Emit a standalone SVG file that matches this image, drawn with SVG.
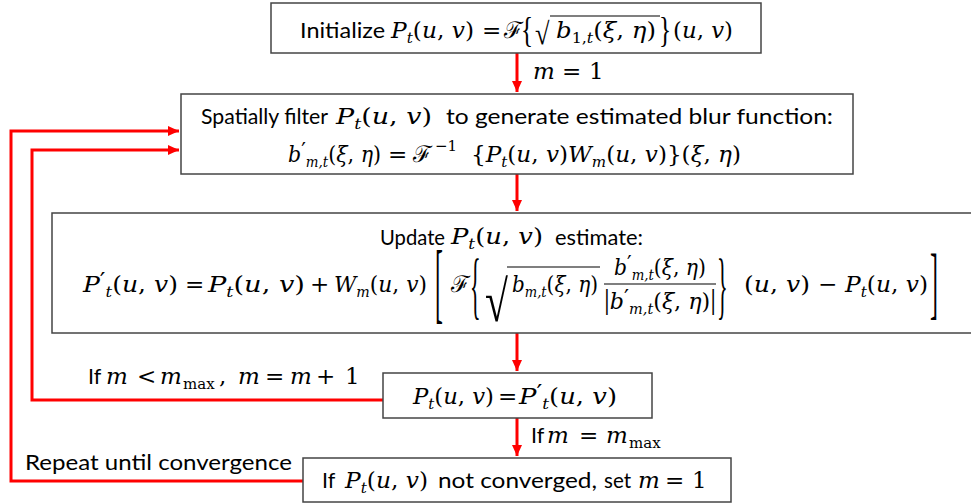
<svg xmlns="http://www.w3.org/2000/svg" width="971" height="503" viewBox="0 0 971 503">
<style>
.box{fill:#fff;stroke:#444;stroke-width:1.5}
.s{font-family:"Lato","Liberation Sans",sans-serif;font-size:21.5px;fill:#000}
.m{font-family:"DejaVu Serif","Liberation Serif",serif;font-size:23px;fill:#000}
.i{font-style:italic}
.sb{font-size:15px;font-style:italic}
.sr{font-size:15px;font-style:normal}
.dl{font-family:"Liberation Serif",serif;fill:#000}
.ov{stroke:#000;stroke-width:1.2}
.c{fill:none;stroke:#f00;stroke-width:3}
</style>
<defs>
<marker id="ah" markerUnits="userSpaceOnUse" viewBox="0 0 11 10" markerWidth="11" markerHeight="10" refX="11" refY="5" orient="auto"><path d="M0,0 L11,5 L0,10 z" fill="#f00"/></marker>
</defs>

<g id="connectors">
<path class="c" d="M517,53 V92" marker-end="url(#ah)"/>
<path class="c" d="M517,174 V211" marker-end="url(#ah)"/>
<path class="c" d="M517,333 V371" marker-end="url(#ah)"/>
<path class="c" d="M517,418 V456" marker-end="url(#ah)"/>
<path class="c" d="M383,400 H32 V150 H179" marker-end="url(#ah)"/>
<path class="c" d="M303,481 H11 V131 H179" marker-end="url(#ah)"/>
<text class="m" y="79"><tspan x="533" class="i">m</tspan><tspan x="562">=</tspan><tspan x="589">1</tspan></text>
<text class="m" y="384"><tspan x="88" class="s">If</tspan><tspan x="106" class="i">m</tspan><tspan x="137">&lt;</tspan><tspan x="160" class="i">m</tspan><tspan x="183" y="389" class="sr" font-size="17">max</tspan><tspan x="219" y="384">,</tspan><tspan x="238" class="i">m</tspan><tspan x="265">=</tspan><tspan x="290" class="i">m</tspan><tspan x="316">+</tspan><tspan x="345">1</tspan></text>
<text class="m" y="443"><tspan x="531" class="s">If</tspan><tspan x="547" class="i">m</tspan><tspan x="579">=</tspan><tspan x="606" class="i">m</tspan><tspan x="629" y="448" class="sr" font-size="17">max</tspan></text>
<text class="s" x="25" y="470" textLength="267" lengthAdjust="spacingAndGlyphs">Repeat until convergence</text>
</g>

<g id="init">
<rect class="box" x="271" y="3" width="490" height="50"/>
<text class="s" x="300" y="38" textLength="85" lengthAdjust="spacingAndGlyphs">Initialize</text>
<text class="m" x="391" y="38" textLength="83" lengthAdjust="spacingAndGlyphs"><tspan class="i">P</tspan><tspan class="sb" dy="5">t</tspan><tspan dy="-5">(</tspan><tspan class="i">u</tspan>, <tspan class="i">v</tspan>)</text>
<text class="m" x="482" y="38">=</text>
<text class="m" x="504" y="38">ℱ</text>
<text class="dl" font-size="36" transform="translate(521,41.5) scale(0.7,1)">{</text>
<text class="dl" font-size="31" transform="translate(535,44) scale(0.85,1)">√</text>
<line class="ov" x1="550" y1="16" x2="660" y2="16"/>
<text class="m" x="556" y="38" textLength="100" lengthAdjust="spacingAndGlyphs"><tspan class="i">b</tspan><tspan class="sr" dy="5">1,</tspan><tspan class="sb">t</tspan><tspan dy="-5">(</tspan><tspan class="i">ξ</tspan>, <tspan class="i">η</tspan>)</text>
<text class="dl" font-size="36" transform="translate(659,41.5) scale(0.7,1)">}</text>
<text class="m" x="673" y="38" textLength="60" lengthAdjust="spacingAndGlyphs">(<tspan class="i">u</tspan>, <tspan class="i">v</tspan>)</text>
</g>

<g id="filter">
<rect class="box" x="181" y="94" width="672" height="80"/>
<text class="s" x="201" y="124" textLength="127" lengthAdjust="spacingAndGlyphs">Spatially filter</text>
<text class="m" x="336" y="124" textLength="96" lengthAdjust="spacingAndGlyphs"><tspan class="i">P</tspan><tspan class="sb" dy="5">t</tspan><tspan dy="-5">(</tspan><tspan class="i">u</tspan>, <tspan class="i">v</tspan>)</text>
<text class="s" x="446" y="124" textLength="387" lengthAdjust="spacingAndGlyphs">to generate estimated blur function:</text>
<text class="m" x="288" y="162" textLength="93" lengthAdjust="spacingAndGlyphs"><tspan class="i">b</tspan><tspan dy="-4">′</tspan><tspan class="sb" dy="9">m,t</tspan><tspan dy="-5">(</tspan><tspan class="i">ξ</tspan>, <tspan class="i">η</tspan>)</text>
<text class="m" x="388" y="162">=</text>
<text class="m" x="413" y="162">ℱ</text>
<text class="m sr" x="435" y="151">−1</text>
<text class="m" x="471" y="162" textLength="270" lengthAdjust="spacingAndGlyphs">{<tspan class="i">P</tspan><tspan class="sb" dy="5">t</tspan><tspan dy="-5">(</tspan><tspan class="i">u</tspan>, <tspan class="i">v</tspan>)<tspan class="i">W</tspan><tspan class="sb" dy="5">m</tspan><tspan dy="-5">(</tspan><tspan class="i">u</tspan>, <tspan class="i">v</tspan>)}(<tspan class="i">ξ</tspan>, <tspan class="i">η</tspan>)</text>
</g>

<g id="update">
<rect class="box" x="52" y="213" width="930" height="120"/>
<text class="s" x="380" y="245" textLength="65" lengthAdjust="spacingAndGlyphs">Update</text>
<text class="m" x="451" y="244" textLength="92" lengthAdjust="spacingAndGlyphs"><tspan class="i">P</tspan><tspan class="sb" dy="5">t</tspan><tspan dy="-5">(</tspan><tspan class="i">u</tspan>, <tspan class="i">v</tspan>)</text>
<text class="s" x="555" y="245" textLength="88" lengthAdjust="spacingAndGlyphs">estimate:</text>
<text class="m" x="83" y="292" textLength="95" lengthAdjust="spacingAndGlyphs"><tspan class="i">P</tspan><tspan dy="-4">′</tspan><tspan class="sb" dy="9">t</tspan><tspan dy="-5">(</tspan><tspan class="i">u</tspan>, <tspan class="i">v</tspan>)</text>
<text class="m" x="185" y="292">=</text>
<text class="m" x="208" y="292" textLength="97" lengthAdjust="spacingAndGlyphs"><tspan class="i">P</tspan><tspan class="sb" dy="5">t</tspan><tspan dy="-5">(</tspan><tspan class="i">u</tspan>, <tspan class="i">v</tspan>)</text>
<text class="m" x="310" y="292">+</text>
<text class="m" x="334" y="292" textLength="93" lengthAdjust="spacingAndGlyphs"><tspan class="i">W</tspan><tspan class="sb" dy="5">m</tspan><tspan dy="-5">(</tspan><tspan class="i">u</tspan>, <tspan class="i">v</tspan>)</text>
<text class="dl" font-size="88" transform="translate(435,312) scale(0.27,1)">[</text>
<text class="m" x="451" y="292">ℱ</text>
<text class="dl" font-size="74" transform="translate(470,310) scale(0.3,1)">{</text>
<text class="dl" font-size="58" transform="translate(485,321) scale(0.72,1)">√</text>
<line class="ov" x1="507" y1="267" x2="600" y2="267"/>
<text class="m" x="512" y="292" textLength="86" lengthAdjust="spacingAndGlyphs"><tspan class="i">b</tspan><tspan class="sb" dy="5">m,t</tspan><tspan dy="-5">(</tspan><tspan class="i">ξ</tspan>, <tspan class="i">η</tspan>)</text>
<text class="m" x="614" y="275" textLength="92" lengthAdjust="spacingAndGlyphs"><tspan class="i">b</tspan><tspan dy="-4">′</tspan><tspan class="sb" dy="9">m,t</tspan><tspan dy="-5">(</tspan><tspan class="i">ξ</tspan>, <tspan class="i">η</tspan>)</text>
<line class="ov" x1="604" y1="284" x2="716" y2="284"/>
<text class="m" x="604" y="309" textLength="112" lengthAdjust="spacingAndGlyphs"><tspan class="dl" font-size="30">|</tspan><tspan class="i">b</tspan><tspan dy="-4">′</tspan><tspan class="sb" dy="9">m,t</tspan><tspan dy="-5">(</tspan><tspan class="i">ξ</tspan>, <tspan class="i">η</tspan>)<tspan class="dl" font-size="30">|</tspan></text>
<text class="dl" font-size="74" transform="translate(717,310) scale(0.3,1)">}</text>
<text class="m" x="744" y="292" textLength="66" lengthAdjust="spacingAndGlyphs">(<tspan class="i">u</tspan>, <tspan class="i">v</tspan>)</text>
<text class="m" x="818" y="292">−</text>
<text class="m" x="845" y="292" textLength="83" lengthAdjust="spacingAndGlyphs"><tspan class="i">P</tspan><tspan class="sb" dy="5">t</tspan><tspan dy="-5">(</tspan><tspan class="i">u</tspan>, <tspan class="i">v</tspan>)</text>
<text class="dl" font-size="80" transform="translate(930,309) scale(0.3,1)">]</text>
</g>

<g id="assign">
<rect class="box" x="383" y="373" width="269" height="45"/>
<text class="m" x="413" y="404" textLength="81" lengthAdjust="spacingAndGlyphs"><tspan class="i">P</tspan><tspan class="sb" dy="5">t</tspan><tspan dy="-5">(</tspan><tspan class="i">u</tspan>, <tspan class="i">v</tspan>)</text>
<text class="m" x="498" y="404">=</text>
<text class="m" x="519" y="404" textLength="98" lengthAdjust="spacingAndGlyphs"><tspan class="i">P</tspan><tspan dy="-4">′</tspan><tspan class="sb" dy="9">t</tspan><tspan dy="-5">(</tspan><tspan class="i">u</tspan>, <tspan class="i">v</tspan>)</text>
</g>

<g id="converge">
<rect class="box" x="303" y="458" width="428" height="44"/>
<text class="s" x="322" y="488">If</text>
<text class="m" x="345" y="488" textLength="83" lengthAdjust="spacingAndGlyphs"><tspan class="i">P</tspan><tspan class="sb" dy="5">t</tspan><tspan dy="-5">(</tspan><tspan class="i">u</tspan>, <tspan class="i">v</tspan>)</text>
<text class="s" x="438" y="488" textLength="159" lengthAdjust="spacingAndGlyphs">not converged,</text>
<text class="s" x="604" y="488" textLength="27" lengthAdjust="spacingAndGlyphs">set</text>
<text class="m" y="488"><tspan x="638" class="i">m</tspan><tspan x="665">=</tspan><tspan x="692">1</tspan></text>
</g>
</svg>
